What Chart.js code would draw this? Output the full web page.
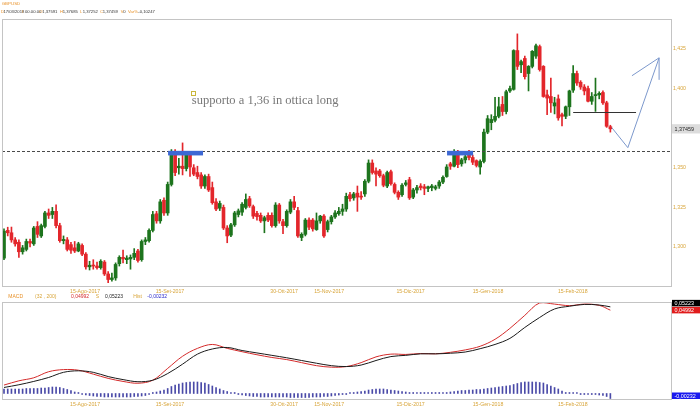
<!DOCTYPE html>
<html>
<head>
<meta charset="utf-8">
<script src="https://cdn.jsdelivr.net/npm/chart.js@4"></script>
<style>
  html, body { margin: 0; padding: 0; background: #fff; }
  #wrap { position: relative; width: 700px; height: 414px; overflow: hidden; }
  #main { position: absolute; left: 0; top: 0; }
  #macd { position: absolute; left: 0; top: 288px; }
</style>
</head>
<body>
<div id="wrap">
  <canvas id="main" width="700" height="300"></canvas>
  <canvas id="macd" width="700" height="126"></canvas>
</div>
<script>
// daily candles, 14 Jul 2017 -> 1 Mar 2018 (index = trading day)
const open = [
  1.2930,1.3105,1.3090,1.3045,1.3030,1.2970,1.2985,1.3035,1.3020,1.3130,
  1.3070,1.3130,1.3215,1.3205,1.3225,1.3135,1.3040,1.3045,1.3015,1.2995,
  1.2975,1.3010,1.2955,1.2875,1.2885,1.2880,1.2870,1.2905,1.2830,1.2795,
  1.2805,1.2895,1.2935,1.2920,1.2925,1.2935,1.2975,1.2920,1.3035,1.3040,
  1.3105,1.3210,1.3165,1.3295,1.3215,1.3395,1.3595,1.3500,1.3510,1.3495,
  1.3585,1.3500,1.3470,1.3455,1.3385,1.3445,1.3375,1.3285,1.3245,1.3250,
  1.3120,1.3075,1.3140,1.3205,1.3220,1.3250,1.3305,1.3255,1.3212,1.3200,
  1.3165,1.3200,1.3200,1.3135,1.3265,1.3160,1.3135,1.3220,1.3285,1.3230,
  1.3060,1.3080,1.3170,1.3170,1.3110,1.3165,1.3195,1.3110,1.3160,1.3190,
  1.3210,1.3225,1.3240,1.3330,1.3310,1.3340,1.3320,1.3335,1.3415,1.3530,
  1.3480,1.3480,1.3450,1.3385,1.3475,1.3395,1.3345,1.3330,1.3395,1.3425,
  1.3315,1.3360,1.3385,1.3380,1.3370,1.3375,1.3370,1.3385,1.3410,1.3445,
  1.3525,1.3510,1.3595,1.3525,1.3550,1.3590,1.3565,1.3545,1.3505,1.3540,
  1.3725,1.3785,1.3800,1.3825,1.3900,1.3855,1.3985,1.3995,1.4240,1.4150,
  1.4190,1.4095,1.4140,1.4205,1.4265,1.4140,1.3960,1.3950,1.3890,1.3935,
  1.3835,1.3825,1.3885,1.3990,1.4095,1.4040,1.4010,1.4000,1.3920,1.3955,
  1.3960,1.3975,1.3910,1.37591
];
const high = [
  1.3115,1.3125,1.3126,1.3060,1.3045,1.3010,1.3050,1.3050,1.3130,1.3160,
  1.3145,1.3225,1.3240,1.3250,1.3267,1.3150,1.3070,1.3060,1.3030,1.3035,
  1.3030,1.3020,1.2965,1.2910,1.2920,1.2905,1.2920,1.2915,1.2845,1.2835,
  1.2900,1.2945,1.2980,1.2945,1.2950,1.2990,1.2985,1.3045,1.3060,1.3115,
  1.3225,1.3225,1.3300,1.3310,1.3410,1.3615,1.3615,1.3560,1.3657,1.3595,
  1.3600,1.3520,1.3510,1.3470,1.3455,1.3460,1.3410,1.3305,1.3290,1.3265,
  1.3135,1.3150,1.3225,1.3240,1.3280,1.3335,1.3320,1.3265,1.3225,1.3215,
  1.3195,1.3215,1.3215,1.3280,1.3275,1.3175,1.3235,1.3300,1.3320,1.3250,
  1.3090,1.3180,1.3185,1.3180,1.3215,1.3200,1.3205,1.3170,1.3200,1.3230,
  1.3250,1.3270,1.3340,1.3345,1.3345,1.3385,1.3350,1.3425,1.3550,1.3550,
  1.3500,1.3490,1.3460,1.3480,1.3485,1.3405,1.3355,1.3400,1.3420,1.3440,
  1.3370,1.3390,1.3400,1.3395,1.3385,1.3395,1.3390,1.3420,1.3450,1.3520,
  1.3535,1.3615,1.3610,1.3560,1.3585,1.3610,1.3580,1.3550,1.3550,1.3745,
  1.3830,1.3835,1.3945,1.3945,1.3950,1.3990,1.4015,1.4245,1.4345,1.4180,
  1.4205,1.4145,1.4240,1.4280,1.4275,1.4145,1.3990,1.4066,1.3945,1.3960,
  1.3845,1.3890,1.3990,1.4145,1.4110,1.4050,1.4025,1.4015,1.3975,1.4066,
  1.3980,1.3985,1.3920,1.37685
];
const low = [
  1.2920,1.3070,1.3030,1.3005,1.2935,1.2955,1.2975,1.3000,1.3010,1.3060,
  1.3060,1.3120,1.3180,1.3180,1.3120,1.3030,1.3020,1.2975,1.2960,1.2965,
  1.2970,1.2945,1.2860,1.2855,1.2860,1.2860,1.2860,1.2820,1.2775,1.2785,
  1.2790,1.2880,1.2900,1.2895,1.2860,1.2920,1.2905,1.2910,1.3015,1.3030,
  1.3095,1.3150,1.3150,1.3200,1.3200,1.3385,1.3450,1.3460,1.3455,1.3480,
  1.3445,1.3450,1.3430,1.3370,1.3370,1.3350,1.3270,1.3230,1.3230,1.3110,
  1.3027,1.3065,1.3130,1.3190,1.3200,1.3240,1.3250,1.3180,1.3170,1.3155,
  1.3090,1.3160,1.3125,1.3125,1.3150,1.3085,1.3125,1.3210,1.3235,1.3060,
  1.3040,1.3070,1.3110,1.3100,1.3105,1.3150,1.3060,1.3095,1.3145,1.3180,
  1.3200,1.3200,1.3225,1.3290,1.3295,1.3225,1.3300,1.3320,1.3405,1.3460,
  1.3385,1.3440,1.3380,1.3375,1.3390,1.3335,1.3300,1.3320,1.3385,1.3300,
  1.3305,1.3340,1.3360,1.3330,1.3350,1.3355,1.3360,1.3370,1.3400,1.3440,
  1.3490,1.3505,1.3500,1.3510,1.3530,1.3550,1.3520,1.3505,1.3460,1.3530,
  1.3715,1.3740,1.3790,1.3815,1.3830,1.3840,1.3975,1.3990,1.4120,1.4100,
  1.4060,1.3985,1.4130,1.4190,1.4110,1.3945,1.3835,1.3850,1.3840,1.3800,
  1.3765,1.3810,1.3830,1.3975,1.4020,1.3995,1.3960,1.3915,1.3900,1.3856,
  1.3935,1.3900,1.3755,1.37252
];
const close = [
  1.3100,1.3090,1.3045,1.3020,1.2970,1.2995,1.3035,1.3025,1.3120,1.3080,
  1.3135,1.3215,1.3200,1.3225,1.3135,1.3040,1.3048,1.2985,1.2980,1.2975,
  1.3020,1.2955,1.2875,1.2885,1.2880,1.2870,1.2910,1.2830,1.2795,1.2805,
  1.2890,1.2935,1.2925,1.2930,1.2935,1.2960,1.2915,1.3035,1.3045,1.3105,
  1.3205,1.3165,1.3285,1.3215,1.3395,1.3600,1.3470,1.3510,1.3495,1.3585,
  1.3505,1.3460,1.3445,1.3385,1.3445,1.3360,1.3280,1.3240,1.3275,1.3120,
  1.3070,1.3140,1.3215,1.3228,1.3270,1.3300,1.3260,1.3195,1.3192,1.3165,
  1.3185,1.3170,1.3135,1.3265,1.3165,1.3135,1.3225,1.3285,1.3250,1.3070,
  1.3080,1.3170,1.3125,1.3115,1.3165,1.3195,1.3070,1.3160,1.3190,1.3215,
  1.3225,1.3240,1.3320,1.3305,1.3335,1.3315,1.3315,1.3415,1.3530,1.3470,
  1.3460,1.3450,1.3390,1.3470,1.3400,1.3345,1.3315,1.3390,1.3405,1.3310,
  1.3360,1.3375,1.3375,1.3370,1.3380,1.3385,1.3380,1.3410,1.3440,1.3505,
  1.3510,1.3595,1.3520,1.3550,1.3570,1.3565,1.3535,1.3515,1.3540,1.3725,
  1.3810,1.3805,1.3825,1.3885,1.3855,1.3980,1.4000,1.4240,1.4140,1.4170,
  1.4075,1.4140,1.4235,1.4270,1.4120,1.3950,1.3940,1.3910,1.3910,1.3815,
  1.3825,1.3885,1.3985,1.4095,1.4035,1.4010,1.3985,1.3920,1.3950,1.3962,
  1.3970,1.3910,1.3762,1.37459
];

// x-axis labels (candle index where the label sits)
const tickIdx = [21.8, 44.6, 75.3, 87.4, 109.3, 130.1, 152.9];
const tickLabels = ['15-Ago-2017', '15-Set-2017', '30-Ott-2017', '15-Nov-2017', '15-Dic-2017', '15-Gen-2018', '15-Feb-2018'];
const priceTicks = [1.300, 1.325, 1.350, 1.375, 1.400, 1.425];

// MACD (32,200): lines read every 4 candles, histogram per candle
const macdIdx = [0,4,8,12,16,20,24,28,32,36,40,44,48,52,56,60,64,68,72,76,80,84,88,92,96,100,104,108,112,116,120,124,128,132,136,140,144,148,152,156,160,163];
const macdLine = [0.0252,0.0266,0.0276,0.0296,0.0303,0.0301,0.0288,0.0274,0.0264,0.0258,0.0268,0.0307,0.0347,0.0373,0.0386,0.0373,0.0362,0.0352,0.0343,0.0336,0.0326,0.0316,0.0311,0.0313,0.0326,0.0345,0.0354,0.0353,0.0356,0.0355,0.0360,0.0368,0.0380,0.0403,0.0439,0.0482,0.0523,0.0519,0.0514,0.0519,0.0515,0.0499];
const signalLine = [0.0244,0.0253,0.0264,0.0277,0.0294,0.0299,0.0294,0.0280,0.0270,0.0263,0.0268,0.0290,0.0321,0.0354,0.0371,0.0376,0.0366,0.0358,0.0350,0.0342,0.0333,0.0324,0.0316,0.0313,0.0318,0.0333,0.0346,0.0350,0.0355,0.0355,0.0357,0.0361,0.0372,0.0386,0.0406,0.0442,0.0475,0.0503,0.0512,0.0518,0.0516,0.0510];
const hist = [
  0.00209,0.00209,0.00209,0.00209,0.00209,0.00209,0.00232,0.00232,0.00232,0.00232,
  0.00255,0.00255,0.00278,0.00302,0.00302,0.00278,0.00232,0.00186,0.00139,0.0007,
  0.00023,-0.00023,-0.0007,-0.00093,-0.00116,-0.00139,-0.00139,-0.00162,-0.00162,-0.00162,
  -0.00162,-0.00162,-0.00162,-0.00162,-0.00162,-0.00139,-0.00139,-0.00116,-0.00093,-0.00046,
  0.00023,0.0007,0.00116,0.00162,0.00232,0.00325,0.00394,0.00441,0.00487,0.0051,
  0.00534,0.00534,0.00534,0.0051,0.00487,0.00418,0.00348,0.00278,0.00209,0.00139,
  0.00093,0.00046,0.00023,-0.00023,-0.0007,-0.00093,-0.00116,-0.00139,-0.00139,-0.00162,
  -0.00162,-0.00162,-0.00162,-0.00162,-0.00162,-0.00162,-0.00162,-0.00186,-0.00186,-0.00186,
  -0.00186,-0.00186,-0.00186,-0.00162,-0.00162,-0.00162,-0.00139,-0.00139,-0.00116,-0.00093,
  -0.0007,-0.00046,-0.00023,0.00023,0.00046,0.0007,0.00093,0.00116,0.00162,0.00186,
  0.00209,0.00209,0.00209,0.00186,0.00162,0.00139,0.00116,0.00093,0.0007,0.00046,
  0.00046,0.00023,0.00023,0.00023,0.00023,0.00023,0.00023,0.00023,0.00046,0.00046,
  0.0007,0.00093,0.00116,0.00139,0.00139,0.00162,0.00162,0.00186,0.00186,0.00209,
  0.00232,0.00255,0.00278,0.00302,0.00325,0.00348,0.00371,0.00418,0.00464,0.0051,
  0.00534,0.00534,0.00534,0.00534,0.0051,0.00487,0.00418,0.00348,0.00278,0.00209,
  0.00116,0.00046,0.00023,0.00023,0.00023,-0.00023,-0.00023,-0.00023,-0.00046,-0.00046,
  -0.0007,-0.00093,-0.00139,-0.00232
];
const macdHeader = { macd: 0.04992, signal: 0.05223, hist: -0.00232 };

// drawings on the price chart
const supportLevel = 1.3607;
const zoneBottom = 1.3578;
const zoneA = [44.1, 53.5];
const zoneB = [119.1, 126.1];
const pivotLevel = 1.3854;
const pivotSpan = [153, 169.9];
const arrowPts = [[163.4, 1.3753], [167.7, 1.3627], [176.1, 1.4194]];
const arrowHead = [[168.8, 1.4081], [176.1, 1.4055]];
const noteText = 'supporto a 1,36 in ottica long';
const notePos = [50.5, 1.3901];
const markerPos = [50.8, 1.3969];

const upColor = '#1d741d';
const downColor = '#e3262b';
const gold = '#d8a53a';
const orange = '#e8922a';
const frame = '#c4c4c4';
const font = '"Liberation Sans", Arial, sans-serif';
const last = close.length - 1;

const fmt = (v, d) => v.toFixed(d).replace('.', ',');
const candleColor = c => close[c.dataIndex] >= open[c.dataIndex] ? upColor : downColor;

const xScale = {
  type: 'linear', min: -0.54, max: 179.3, offset: false,
  grid: { display: false, drawTicks: false }, border: { display: false },
  ticks: { autoSkip: false, maxRotation: 0, padding: 2, color: gold, font: { size: 5.2, family: font },
    callback: (v, i) => tickLabels[i] },
  afterBuildTicks: s => { s.ticks = tickIdx.map(v => ({ value: v })); }
};

const drawTag = (ctx, x, y, text, bg, fg, h) => {
  ctx.fillStyle = bg;
  ctx.fillRect(x, y - h / 2, 700 - x, h);
  ctx.fillStyle = fg;
  ctx.font = '5.4px ' + font;
  ctx.textBaseline = 'middle';
  ctx.textAlign = 'left';
  ctx.fillText(text, x + 2.5, y + 0.3);
};

const drawRow = (ctx, parts, y, size) => {
  ctx.font = size + 'px ' + font;
  ctx.textBaseline = 'middle';
  ctx.textAlign = 'left';
  parts.forEach(p => { ctx.fillStyle = p[2]; ctx.fillText(p[0], p[1], y); });
};

const mainOverlay = {
  id: 'mainOverlay',
  afterDatasetsDraw(chart) {
    const { ctx, chartArea: a, scales: { x, y } } = chart;
    ctx.save();
    // support line 1,36
    const ys = Math.round(y.getPixelForValue(supportLevel)) + 0.5;
    ctx.strokeStyle = '#4a4a4a';
    ctx.lineWidth = 1;
    ctx.setLineDash([3, 2]);
    ctx.beginPath(); ctx.moveTo(a.left, ys); ctx.lineTo(a.right, ys); ctx.stroke();
    ctx.setLineDash([]);
    // blue zones
    ctx.fillStyle = '#3d68d4';
    [zoneA, zoneB].forEach(z => {
      const x0 = x.getPixelForValue(z[0]);
      const x1 = x.getPixelForValue(z[1]);
      const y0 = y.getPixelForValue(supportLevel);
      const y1 = y.getPixelForValue(zoneBottom);
      ctx.fillRect(x0, y0, x1 - x0, y1 - y0);
    });
    // pivot line
    const yp = Math.round(y.getPixelForValue(pivotLevel)) + 0.5;
    ctx.strokeStyle = '#333';
    ctx.beginPath();
    ctx.moveTo(x.getPixelForValue(pivotSpan[0]), yp);
    ctx.lineTo(x.getPixelForValue(pivotSpan[1]), yp);
    ctx.stroke();
    // projected path
    ctx.strokeStyle = '#7c98cc';
    ctx.beginPath();
    arrowPts.forEach((p, i) => {
      const px = x.getPixelForValue(p[0]), py = y.getPixelForValue(p[1]);
      i ? ctx.lineTo(px, py) : ctx.moveTo(px, py);
    });
    ctx.stroke();
    const tip = arrowPts[arrowPts.length - 1];
    arrowHead.forEach(p => {
      ctx.beginPath();
      ctx.moveTo(x.getPixelForValue(tip[0]), y.getPixelForValue(tip[1]));
      ctx.lineTo(x.getPixelForValue(p[0]), y.getPixelForValue(p[1]));
      ctx.stroke();
    });
    // note
    ctx.strokeStyle = '#c9b63a';
    ctx.strokeRect(Math.round(x.getPixelForValue(markerPos[0])) - 2 + 0.5, Math.round(y.getPixelForValue(markerPos[1])) - 2 + 0.5, 4, 4);
    ctx.fillStyle = '#777';
    ctx.font = '12.5px "Liberation Serif", "Times New Roman", serif';
    ctx.textBaseline = 'alphabetic';
    ctx.fillText(noteText, x.getPixelForValue(notePos[0]), y.getPixelForValue(notePos[1]));
    ctx.restore();
  },
  afterDraw(chart) {
    const { ctx, chartArea: a, scales: { y } } = chart;
    ctx.save();
    ctx.strokeStyle = frame;
    ctx.lineWidth = 1;
    ctx.strokeRect(a.left + 0.5, a.top + 0.5, a.right - a.left, a.bottom - a.top);
    drawTag(ctx, a.right + 1, y.getPixelForValue(close[last]), fmt(close[last], 5), '#dcdcdc', '#222', 9.3);
    drawRow(ctx, [['GBPUSD', 1.7, orange]], 4, 4.4);
    drawRow(ctx, [
      ['D', 1, orange], ['17/03/2018', 3.4, '#333'],
      ['I', 22.3, orange], ['00.00.00', 25, '#333'],
      ['O', 39.3, orange], [fmt(open[last], 5), 42.3, '#333'],
      ['H', 60, orange], [fmt(high[last], 5), 62.7, '#333'],
      ['L', 80, orange], [fmt(low[last], 5), 82.7, '#333'],
      ['C', 100, orange], [fmt(close[last], 5), 102.7, '#333'],
      ['V', 120.7, orange], ['0', 123.3, '#333'],
      ['Var%', 128, orange], ['-0,10247', 138.3, '#333']
    ], 11.7, 4.2);
    ctx.restore();
  }
};

new Chart(document.getElementById('main'), {
  type: 'bar',
  data: {
    datasets: [
      { label: 'wick', data: open.map((o, i) => ({ x: i, y: [low[i], high[i]] })),
        backgroundColor: candleColor, barThickness: 1, grouped: false, order: 2 },
      { label: 'body', data: open.map((o, i) => ({ x: i, y: [o, close[i]] })),
        backgroundColor: candleColor, barThickness: 3, minBarLength: 1, grouped: false, order: 1 }
    ]
  },
  options: {
    responsive: false, animation: false, devicePixelRatio: 1,
    layout: { padding: { left: 2, top: 19, right: 0, bottom: 0 } },
    plugins: { legend: { display: false }, tooltip: { enabled: false } },
    scales: {
      x: Object.assign({}, xScale, { afterFit: s => { s.height = 14; } }),
      y: {
        type: 'linear', position: 'right', min: 1.2754, max: 1.4439,
        grid: { display: false, drawTicks: false }, border: { display: false },
        ticks: { padding: 2, color: gold, font: { size: 5.2, family: font }, callback: v => fmt(v, 3) },
        afterBuildTicks: s => { s.ticks = priceTicks.map(v => ({ value: v })); },
        afterFit: s => { s.width = 29; }
      }
    }
  },
  plugins: [mainOverlay]
});

const macdOverlay = {
  id: 'macdOverlay',
  afterDraw(chart) {
    const { ctx, chartArea: a, scales: { m, h } } = chart;
    ctx.save();
    ctx.strokeStyle = frame;
    ctx.lineWidth = 1;
    ctx.strokeRect(a.left + 0.5, a.top + 0.5, a.right - a.left, a.bottom - a.top);
    drawRow(ctx, [
      ['MACD', 8.3, orange], ['(32 , 200)', 35, gold],
      [fmt(macdHeader.macd, 5), 71, '#d42a2a'], ['S', 95.7, gold],
      [fmt(macdHeader.signal, 5), 105, '#222'], ['Hist', 133.3, gold],
      [fmt(macdHeader.hist, 5), 147.3, '#2a2acc']
    ], 9, 5);
    const th = 6.5;
    const ySig = m.getPixelForValue(macdHeader.signal);
    let yMac = m.getPixelForValue(macdHeader.macd);
    if (yMac - ySig < th + 0.5) yMac = ySig + th + 0.5;
    let yHist = h.getPixelForValue(macdHeader.hist);
    if (yHist + th / 2 > a.bottom) yHist = a.bottom - th / 2;
    drawTag(ctx, a.right + 1, ySig, fmt(macdHeader.signal, 5), '#000', '#fff', th);
    drawTag(ctx, a.right + 1, yMac, fmt(macdHeader.macd, 5), '#e01b1b', '#fff', th);
    drawTag(ctx, a.right + 1, yHist, fmt(macdHeader.hist, 5), '#1a1aee', '#fff', th);
    ctx.restore();
  }
};

new Chart(document.getElementById('macd'), {
  type: 'bar',
  data: {
    datasets: [
      { type: 'line', label: 'MACD', data: macdIdx.map((k, i) => ({ x: k, y: macdLine[i] })),
        yAxisID: 'm', borderColor: '#d42a2a', borderWidth: 1, pointRadius: 0, tension: 0.35, order: 2 },
      { type: 'line', label: 'Signal', data: macdIdx.map((k, i) => ({ x: k, y: signalLine[i] })),
        yAxisID: 'm', borderColor: '#1a1a1a', borderWidth: 1, pointRadius: 0, tension: 0.35, order: 1 },
      { label: 'Hist', data: hist.map((v, i) => ({ x: i, y: v })), yAxisID: 'h',
        backgroundColor: '#4a4aa8', barThickness: 1, minBarLength: 1, grouped: false, order: 3 }
    ]
  },
  options: {
    responsive: false, animation: false, devicePixelRatio: 1,
    layout: { padding: { left: 2, top: 14, right: 0, bottom: 0 } },
    plugins: { legend: { display: false }, tooltip: { enabled: false } },
    scales: {
      x: Object.assign({}, xScale, { afterFit: s => { s.height = 15; } }),
      m: {
        type: 'linear', position: 'right', min: 0.0206, max: 0.0526,
        grid: { display: false, drawTicks: false }, border: { display: false },
        ticks: { display: false },
        afterFit: s => { s.width = 29; }
      },
      h: { type: 'linear', display: false, min: -0.00255, max: 0.04246 }
    }
  },
  plugins: [macdOverlay]
});
</script>
</body>
</html>
